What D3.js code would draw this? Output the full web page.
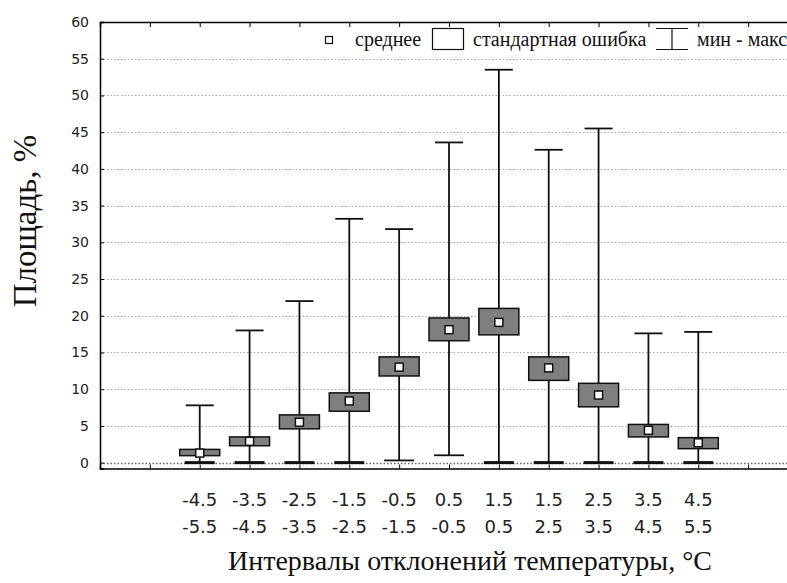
<!DOCTYPE html>
<html>
<head>
<meta charset="utf-8">
<script src="https://cdn.jsdelivr.net/npm/d3@7"></script>
<style>
  body { margin: 0; background: #fff; }
  svg { display: block; }
</style>
</head>
<body>
<div id="grafico"></div>
<script>
// dados
const rotulosCima = ["-4.5", "-3.5", "-2.5", "-1.5", "-0.5", "0.5", "1.5", "1.5", "2.5", "3.5", "4.5"];
const rotulosBaixo = ["-5.5", "-4.5", "-3.5", "-2.5", "-1.5", "-0.5", "0.5", "2.5", "3.5", "4.5", "5.5"];
const medias = [1.3, 2.9, 5.5, 8.4, 13.0, 18.1, 19.1, 12.9, 9.2, 4.4, 2.7];
const erroBaixo = [0.95, 2.3, 4.6, 7.0, 11.8, 16.6, 17.4, 11.2, 7.6, 3.5, 1.9];
const erroCima = [1.8, 3.5, 6.5, 9.5, 14.4, 19.7, 21.0, 14.4, 10.8, 5.2, 3.4];
const minimos = [0, 0, 0, 0, 0.3, 1.0, 0, 0, 0, 0, 0];
const maximos = [7.8, 18.0, 22.0, 33.2, 31.8, 43.6, 53.5, 42.6, 45.5, 17.6, 17.8];
const ticksY = d3.range(0, 61, 5);

const largura = 787, altura = 583;
const esquerda = 100, topo = 22, fundo = 468.5, direita = 798;

const svg = d3.select("#grafico").append("svg")
    .attr("width", largura)
    .attr("height", altura);

svg.append("rect").attr("width", largura).attr("height", altura).attr("fill", "#fff");

const x = d3.scaleLinear().domain([0, 14]).range([esquerda, direita]);
const y = d3.scaleLinear().domain([-0.8, 60]).range([fundo, topo]);

// linhas de grade pontilhadas
svg.append("g").selectAll("line")
    .data(ticksY)
    .join("line")
    .attr("x1", esquerda)
    .attr("x2", largura)
    .attr("y1", d => Math.round(y(d)) + 0.5)
    .attr("y2", d => Math.round(y(d)) + 0.5)
    .attr("stroke", d => d == 0 ? "#666" : "#aaa")
    .attr("stroke-width", d => d == 0 ? 1.5 : 1)
    .attr("stroke-dasharray", "1.5,2");

// eixos
svg.append("g")
    .attr("transform", `translate(${esquerda},0)`)
    .call(d3.axisLeft(y).tickValues(ticksY).tickSize(-4).tickPadding(11))
    .call(g => g.select(".domain").attr("stroke-width", 1.5))
    .call(g => g.selectAll("text")
        .attr("font-family", "DejaVu Sans")
        .attr("font-size", 14)
        .attr("fill", "#222"));

svg.append("g")
    .attr("transform", `translate(0,${fundo})`)
    .call(d3.axisBottom(x).ticks(14).tickSize(-4).tickFormat(""))
    .call(g => g.select(".domain").attr("stroke-width", 1.5));

svg.append("g")
    .attr("transform", `translate(0,${topo})`)
    .call(d3.axisTop(x).ticks(14).tickSize(-5).tickFormat(""))
    .call(g => g.select(".domain").attr("stroke-width", 1.5));

// caixas
const idx = d3.range(medias.length);
const larguraCaixa = 40, larguraBigode = 28;

const caixas = svg.append("g");

caixas.selectAll(".bigode")
    .data(idx)
    .join("line")
    .attr("x1", i => x(i + 2))
    .attr("x2", i => x(i + 2))
    .attr("y1", i => y(minimos[i]))
    .attr("y2", i => y(maximos[i]))
    .attr("stroke", "#111")
    .attr("stroke-width", 1.8);

caixas.selectAll(".max")
    .data(idx)
    .join("line")
    .attr("x1", i => x(i + 2) - larguraBigode / 2)
    .attr("x2", i => x(i + 2) + larguraBigode / 2)
    .attr("y1", i => y(maximos[i]))
    .attr("y2", i => y(maximos[i]))
    .attr("stroke", "#111")
    .attr("stroke-width", 1.8);

caixas.selectAll(".min")
    .data(idx)
    .join("line")
    .attr("x1", i => x(i + 2) - larguraBigode / 2 - 1)
    .attr("x2", i => x(i + 2) + larguraBigode / 2 + 1)
    .attr("y1", i => y(minimos[i]))
    .attr("y2", i => y(minimos[i]))
    .attr("stroke", "#111")
    .attr("stroke-width", i => minimos[i] == 0 ? 3 : 1.8);

caixas.selectAll(".erro")
    .data(idx)
    .join("rect")
    .attr("x", i => x(i + 2) - larguraCaixa / 2)
    .attr("y", i => y(erroCima[i]))
    .attr("width", larguraCaixa)
    .attr("height", i => y(erroBaixo[i]) - y(erroCima[i]))
    .attr("fill", "#7f7f7f")
    .attr("stroke", "#111")
    .attr("stroke-width", 1.5);

caixas.selectAll(".media")
    .data(idx)
    .join("rect")
    .attr("x", i => x(i + 2) - 4)
    .attr("y", i => y(medias[i]) - 4)
    .attr("width", 8)
    .attr("height", 8)
    .attr("fill", "#fff")
    .attr("stroke", "#111")
    .attr("stroke-width", 1.5);

// rotulos do eixo x em duas linhas
const rotulos = svg.append("g")
    .attr("font-family", "DejaVu Sans")
    .attr("font-size", 18)
    .attr("fill", "#222")
    .attr("text-anchor", "middle");

rotulos.selectAll(".cima")
    .data(idx)
    .join("text")
    .attr("x", i => x(i + 2))
    .attr("y", 506)
    .text(i => rotulosCima[i]);

rotulos.selectAll(".baixo")
    .data(idx)
    .join("text")
    .attr("x", i => x(i + 2))
    .attr("y", 533)
    .text(i => rotulosBaixo[i]);

// titulos
svg.append("text")
    .attr("x", 470)
    .attr("y", 570)
    .attr("text-anchor", "middle")
    .attr("font-family", "Liberation Serif")
    .attr("font-size", 28)
    .attr("fill", "#111")
    .text("Интервалы отклонений температуры, °С");

svg.append("text")
    .attr("transform", "translate(36,221) rotate(-90)")
    .attr("text-anchor", "middle")
    .attr("font-family", "Liberation Serif")
    .attr("font-size", 33)
    .attr("fill", "#111")
    .text("Площадь, %");

// legenda
const legenda = svg.append("g")
    .attr("font-family", "Liberation Serif")
    .attr("font-size", 20)
    .attr("fill", "#111");

legenda.append("rect")
    .attr("x", 325.5).attr("y", 36.5).attr("width", 7).attr("height", 7)
    .attr("fill", "#fff").attr("stroke", "#111").attr("stroke-width", 1.2);
legenda.append("text").attr("x", 355).attr("y", 46).text("среднее");

legenda.append("rect")
    .attr("x", 432.5).attr("y", 28.5).attr("width", 31).attr("height", 21)
    .attr("fill", "#fff").attr("stroke", "#111").attr("stroke-width", 1.2);
legenda.append("text").attr("x", 473).attr("y", 46).text("стандартная ошибка");

legenda.append("path")
    .attr("d", "M656,28.5H688M672,28.5V49.5M656,49.5H688")
    .attr("fill", "none").attr("stroke", "#111").attr("stroke-width", 1.2);
legenda.append("text").attr("x", 697).attr("y", 46).text("мин - макс");
</script>
</body>
</html>
